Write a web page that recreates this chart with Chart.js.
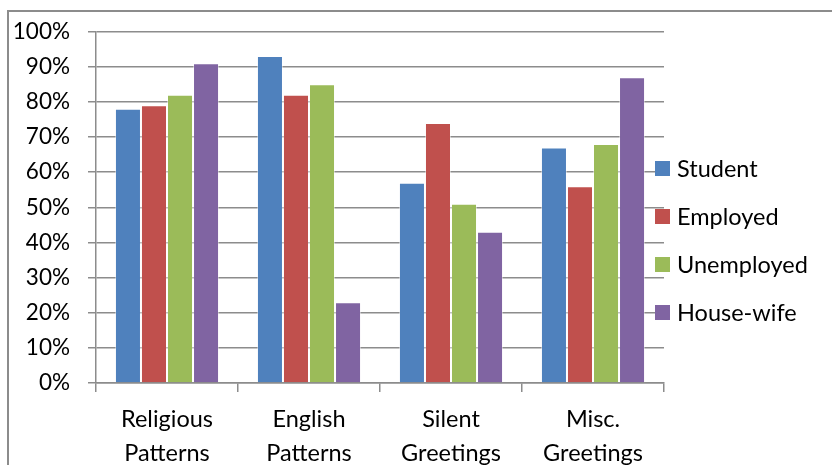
<!DOCTYPE html>
<html>
<head>
<meta charset="utf-8">
<script src="https://cdn.jsdelivr.net/npm/chart.js@4"></script>
<style>
  body { margin: 0; background: #fff; }
  #wrap { position: relative; width: 832px; height: 465px; overflow: hidden; }
  #frame { position: absolute; left: 7px; top: 10px; width: 900px; height: 500px;
           border-left: 2px solid #8c8c8c; border-top: 2px solid #8c8c8c; }
  canvas { position: absolute; left: 0; top: 0; }
  #legend { position: absolute; left: 655px; top: 144px; font-family: Lato, sans-serif; font-size: 23.5px; color: #000; }
  #legend div { height: 48px; display: flex; align-items: center; }
  #legend span.box { width: 15px; height: 15px; margin-right: 7px; display: inline-block; }
</style>
</head>
<body>
<div id="wrap">
  <div id="frame"></div>
  <canvas id="chart" width="832" height="465"></canvas>
  <div id="legend"></div>
</div>
<script>
// chart data
const categories = [['Religious', 'Patterns'], ['English', 'Patterns'], ['Silent', 'Greetings'], ['Misc.', 'Greetings']];
const seriesNames = ['Student', 'Employed', 'Unemployed', 'House-wife'];
const student = [78, 93, 57, 67];
const employed = [79, 82, 74, 56];
const unemployed = [82, 85, 51, 68];
const housewife = [91, 23, 43, 87];
const colors = ['#4F81BD', '#C0504D', '#9BBB59', '#8064A2'];

document.addEventListener('DOMContentLoaded', () => {
    const values = [student, employed, unemployed, housewife];
    const ctx = document.getElementById('chart').getContext('2d');

    new Chart(ctx, {
        type: 'bar',
        data: {
            labels: categories,
            datasets: seriesNames.map((name, i) => ({
                label: name,
                data: values[i],
                backgroundColor: colors[i],
                borderColor: 'rgba(255,255,255,0.45)',
                borderWidth: 1,
                categoryPercentage: 0.733,
                barPercentage: 1
            }))
        },
        options: {
            responsive: false,
            animation: false,
            layout: { padding: { top: 27, right: 168, left: 0, bottom: 0 } },
            font: { family: 'Lato, sans-serif' },
            scales: {
                x: {
                    grid: { drawOnChartArea: false, color: '#8c8c8c', lineWidth: 1.5, tickLength: 9 },
                    border: { color: '#8c8c8c', width: 1.5 },
                    ticks: { color: '#000', padding: 11, font: { size: 23.5, lineHeight: 1.42 }, maxRotation: 0 },
                    afterFit: (scale) => { scale.height = 82; }
                },
                y: {
                    min: 0,
                    max: 100,
                    ticks: {
                        stepSize: 10,
                        color: '#000',
                        padding: 18,
                        font: { size: 22.5 },
                        callback: (v) => v + '%'
                    },
                    grid: { color: '#8c8c8c', lineWidth: 1.5, tickLength: 8 },
                    border: { color: '#8c8c8c', width: 1.5 },
                    afterFit: (scale) => { scale.width = 96; }
                }
            },
            plugins: {
                legend: { display: false },
                tooltip: { enabled: false }
            }
        }
    });

    // legend drawn as html so it can sit over the plot edge
    const legend = document.getElementById('legend');
    seriesNames.forEach((name, i) => {
        const row = document.createElement('div');
        row.innerHTML = '<span class="box" style="background:' + colors[i] + '"></span>' + name;
        legend.appendChild(row);
    });
});
</script>
</body>
</html>
